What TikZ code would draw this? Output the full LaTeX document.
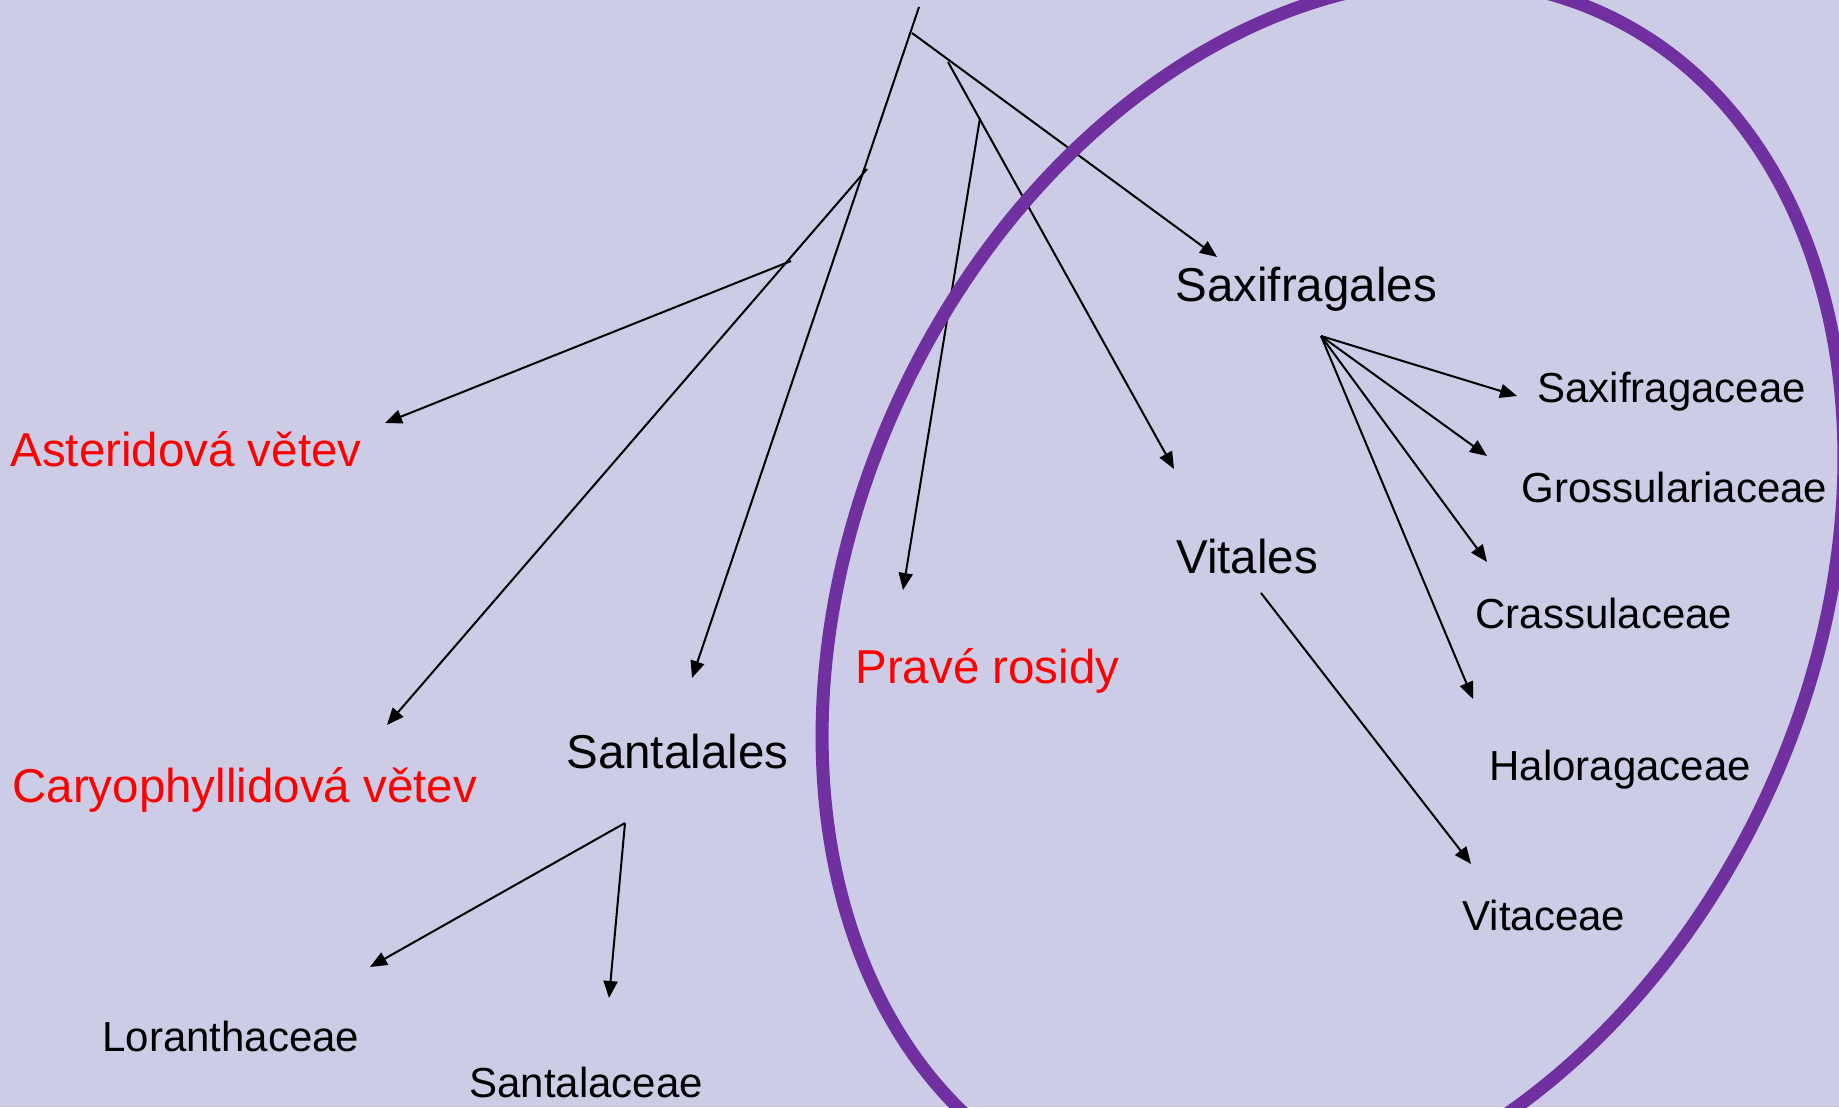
\documentclass[tikz,border=0pt]{standalone}
\usepackage{fontspec}
\setmainfont{Liberation Sans}
\usetikzlibrary{arrows.meta}
\definecolor{slidebg}{RGB}{204,204,230}
\definecolor{rosidring}{RGB}{112,48,160}
\tikzset{
    taxon/.style={anchor=base west, inner sep=0pt, font=\fontsize{23.75}{28}\selectfont},
    family/.style={anchor=base west, inner sep=0pt, font=\fontsize{21}{25}\selectfont},
    clade/.style={taxon, text=red},
    branch/.style={line width=1pt, ->}
}

\begin{document}
\begin{tikzpicture}[x=0.5pt, y=-0.5pt, >={Triangle[length=8.5pt,width=7pt]}]
\fill[slidebg](0,0) rectangle (1839,1107);
\useasboundingbox (0,0) rectangle (1839,1107);

\coordinate (root) at (919,7);
\coordinate (rosidfork) at (912,33);
\coordinate (vitfork) at (948,62);
\coordinate (truefork) at (980,118);
\coordinate (caryfork) at (867,169);
\coordinate (asterfork) at (791,261);
\coordinate (santtip) at (692,678);
\coordinate (saxtip) at (1217,257);
\coordinate (vittip) at (1174,469);
\coordinate (truetip) at (903,590);
\coordinate (carytip) at (387,725);
\coordinate (astertip) at (385,423);
\coordinate (santfork) at (625,823);
\coordinate (lorantip) at (370,967);
\coordinate (santaltip) at (609,998);
\coordinate (saxfork) at (1321,336);
\coordinate (vitafork) at (1261,593);
\coordinate (vitaceaetip) at (1471,864);
\coordinate (fan1) at (1517,396);
\coordinate (fan2) at (1487,456);
\coordinate (fan3) at (1487,562);
\coordinate (fan4) at (1473,699);

\draw[branch](root)--(santtip);
\draw[branch](rosidfork)--(saxtip);
\draw[branch](vitfork)--(vittip);
\draw[branch](truefork)--(truetip);
\draw[branch](caryfork)--(carytip);
\draw[branch](asterfork)--(astertip);
\draw[branch](santfork)--(lorantip);
\draw[branch](santfork)--(santaltip);
\foreach \k in {1,...,4}
{
    \draw[branch](saxfork)--(fan\k);
}
\draw[branch](vitafork)--(vitaceaetip);

\node (asterid) at (10,466)[clade]{Asteridová větev};
\node (caryo) at (12,802)[clade]{Caryophyllidová větev};
\node (truerosid) at (855,683)[clade]{Pravé rosidy};
\node (santalales) at (566,768)[taxon]{Santalales};
\node (saxifragales) at (1175,301)[taxon]{Saxifragales};
\node (vitales) at (1176,573)[taxon]{Vitales};
\node (loranth) at (102,1051)[family]{Loranthaceae};
\node (santalac) at (469,1097)[family]{Santalaceae};
\node (saxifragac) at (1537,402)[family]{Saxifragaceae};
\node (grossul) at (1521,502)[family]{Grossulariaceae};
\node (crassul) at (1475,628)[family]{Crassulaceae};
\node (halorag) at (1489,780)[family]{Haloragaceae};
\node (vitac) at (1462,930)[family]{Vitaceae};

\begin{scope}
\clip(0,0) rectangle (1839,1107);
\draw[rosidring, line width=6.5pt, rotate around={64.9:(1333,597)}](1333,597) ellipse [x radius=643, y radius=477];
\end{scope}
\end{tikzpicture}
\end{document}
